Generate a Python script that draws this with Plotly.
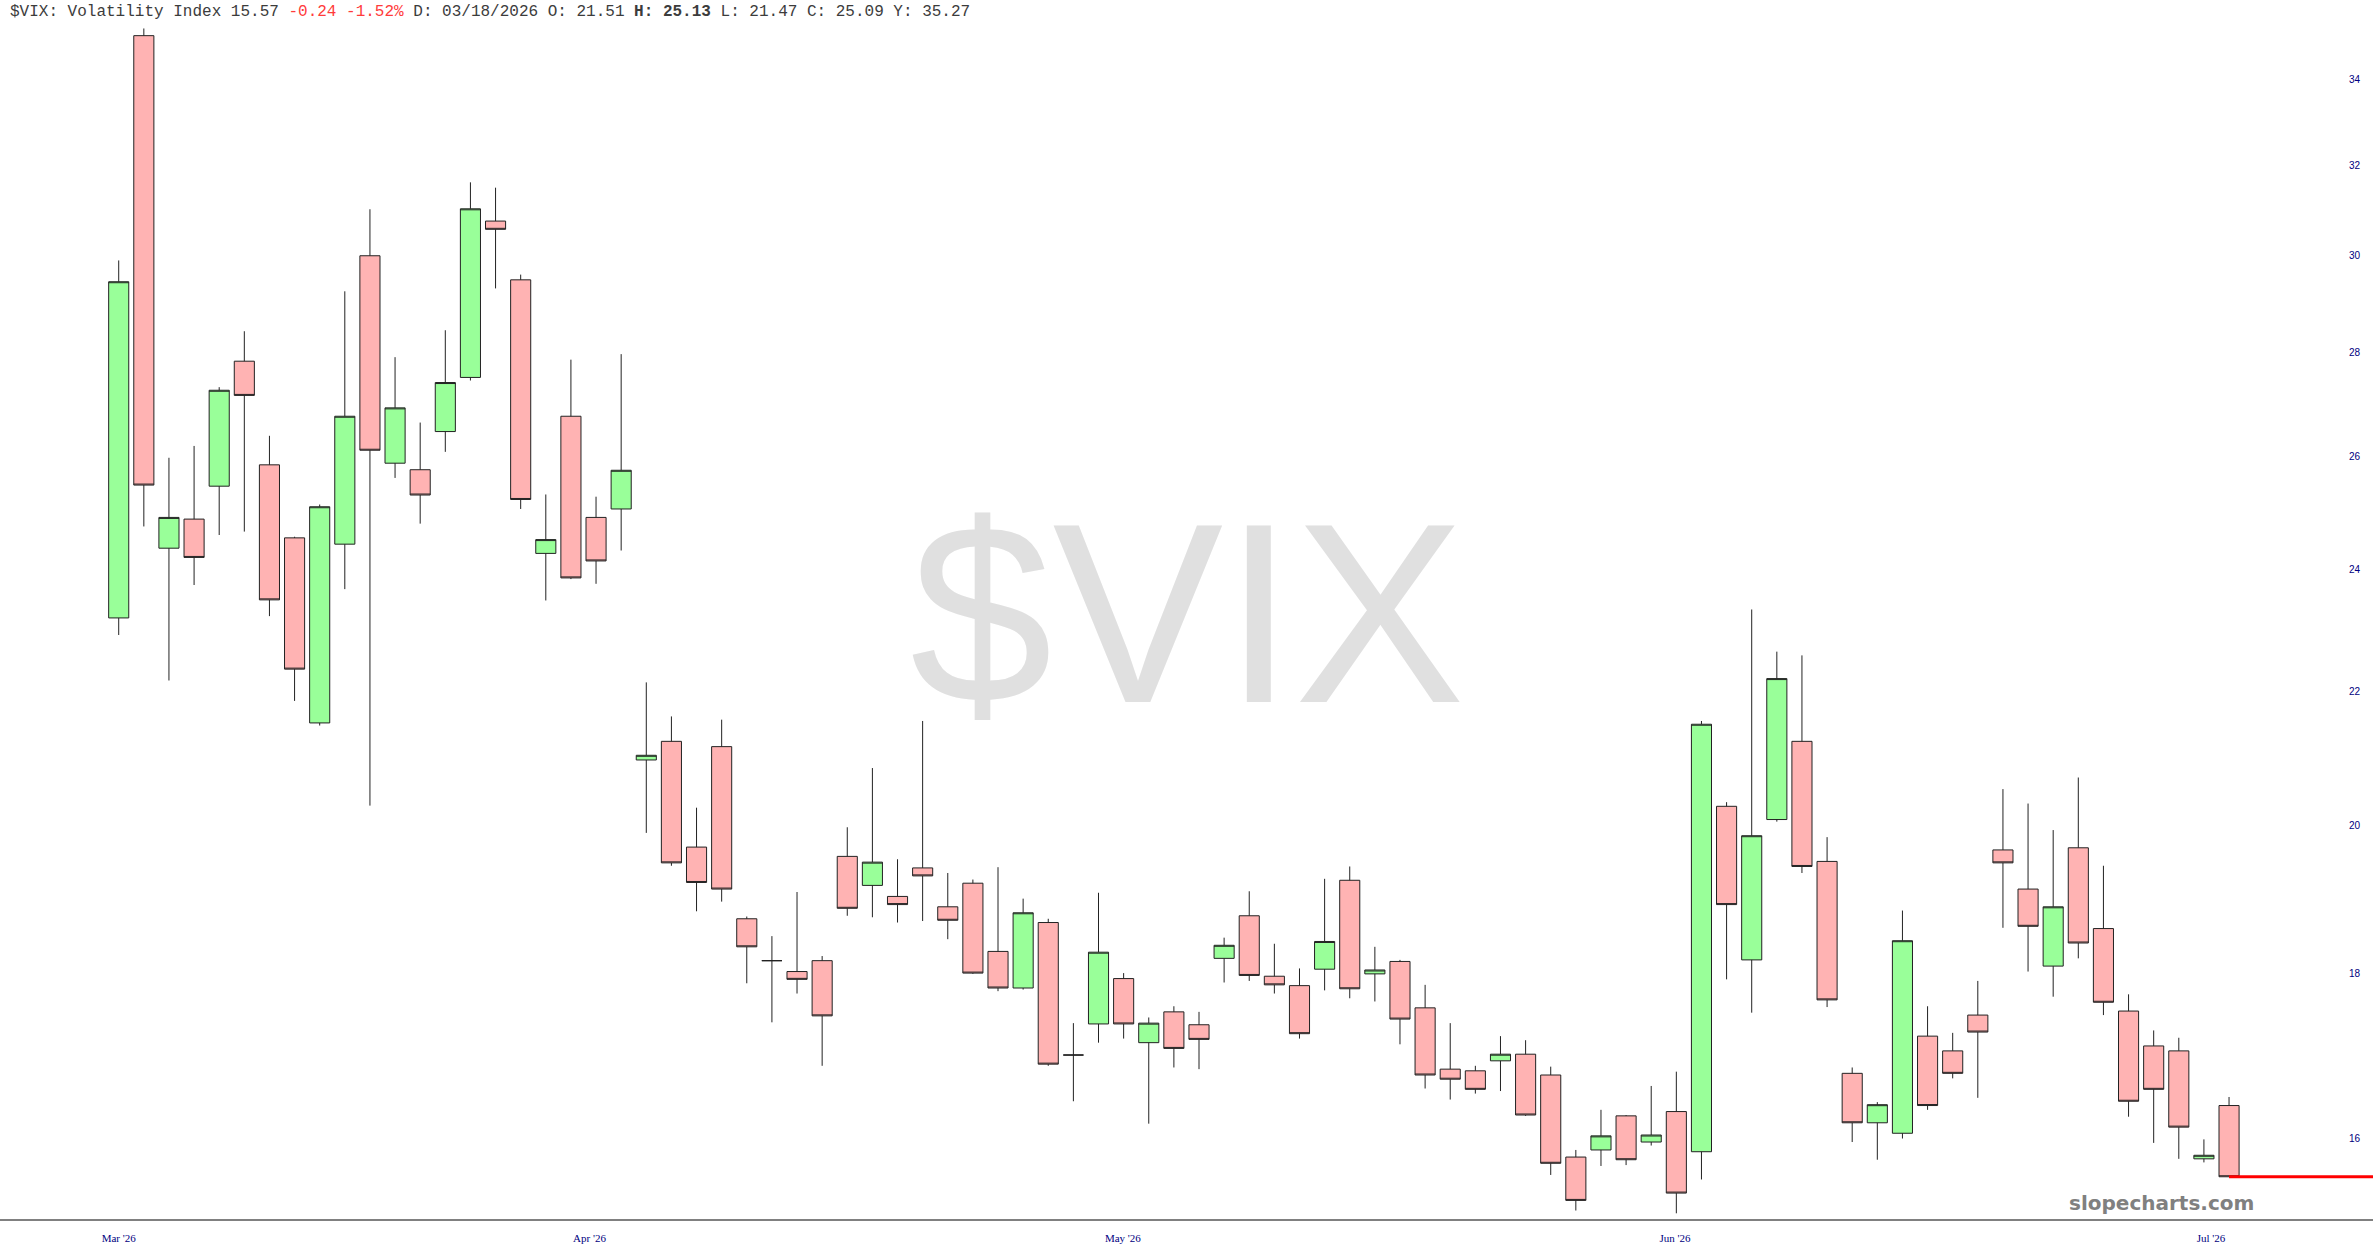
import plotly.graph_objects as go

# ---- data (trading-day index order) ----
opens = [23.18, 35.09, 24.36, 24.87, 25.46, 27.83, 25.85, 24.54, 21.51, 24.43,
         30.00, 25.88, 25.76, 26.47, 27.51, 30.75, 29.49, 24.27, 26.76, 24.90,
         25.05, 20.95, 21.23, 19.69, 21.15, 18.71, 18.16, 18.02, 18.16, 19.56,
         19.16, 19.01, 19.40, 18.87, 19.19, 18.28, 17.81, 18.66, 16.98, 17.36,
         17.93, 17.13, 17.51, 17.35, 18.19, 18.75, 17.96, 17.84, 18.05, 19.23,
         17.99, 18.15, 17.56, 16.81, 16.79, 16.91, 16.99, 16.74, 15.79, 15.87,
         16.26, 15.96, 16.31, 15.85, 20.27, 18.17, 20.08, 21.23, 19.49, 16.76,
         16.18, 16.06, 17.21, 17.03, 17.47, 19.65, 19.11, 18.09, 19.68, 18.58,
         17.52, 17.09, 17.03, 15.77, 16.38]
highs = [29.90, 35.27, 25.98, 26.20, 27.32, 28.43, 26.39, 24.56, 25.13, 29.25,
         31.01, 27.91, 26.64, 28.45, 31.61, 31.49, 29.60, 25.31, 27.86, 25.27,
         27.97, 22.14, 21.61, 20.25, 21.56, 18.74, 18.48, 19.07, 18.22, 19.97,
         20.83, 19.52, 21.54, 19.33, 19.24, 19.41, 18.98, 18.71, 17.37, 19.06,
         18.00, 17.44, 17.58, 17.51, 18.46, 19.08, 18.38, 18.06, 19.25, 19.42,
         18.34, 18.17, 17.85, 17.37, 16.85, 17.21, 17.16, 16.84, 15.87, 16.33,
         16.27, 16.61, 16.78, 21.54, 20.33, 23.32, 22.63, 22.57, 19.83, 16.83,
         16.42, 18.82, 17.58, 17.25, 17.90, 20.52, 20.31, 19.93, 20.69, 19.43,
         17.73, 17.28, 17.19, 15.99, 16.48]
lows = [22.90, 24.74, 22.17, 23.73, 24.59, 24.65, 23.21, 21.85, 21.47, 23.66,
        20.28, 25.61, 24.79, 26.09, 27.45, 29.31, 25.05, 23.47, 23.83, 23.75,
        24.32, 19.89, 19.43, 18.81, 18.94, 17.87, 17.38, 17.74, 16.85, 18.75,
        18.73, 18.66, 18.68, 18.44, 17.99, 17.77, 17.79, 16.85, 16.43, 17.13,
        17.18, 16.17, 16.83, 16.81, 17.88, 17.90, 17.74, 17.18, 17.78, 17.68,
        17.64, 17.11, 16.58, 16.45, 16.52, 16.55, 16.26, 15.59, 15.20, 15.69,
        15.70, 15.92, 15.17, 15.54, 17.92, 17.50, 20.05, 19.33, 17.57, 15.96,
        15.76, 16.00, 16.33, 16.70, 16.47, 18.59, 18.02, 17.70, 18.19, 17.47,
        16.25, 15.95, 15.77, 15.73, 15.57]
closes = [29.45, 25.48, 24.90, 24.20, 27.26, 27.16, 23.48, 22.35, 25.09, 26.76,
          26.12, 26.92, 25.30, 27.41, 31.02, 30.57, 25.22, 24.51, 23.85, 24.14,
          25.75, 21.02, 19.47, 19.20, 19.11, 18.34, 18.16, 17.92, 17.46, 18.85,
          19.48, 18.90, 19.29, 18.69, 18.00, 17.81, 18.79, 16.87, 16.98, 18.27,
          17.36, 17.37, 17.06, 17.17, 18.36, 17.97, 17.85, 17.24, 18.41, 17.80,
          18.04, 17.42, 16.74, 16.69, 16.57, 16.99, 16.27, 15.72, 15.31, 16.03,
          15.76, 16.04, 15.39, 21.49, 18.90, 19.85, 22.20, 19.42, 17.66, 16.18,
          16.39, 18.42, 16.38, 16.76, 17.26, 19.47, 18.61, 18.87, 18.39, 17.63,
          16.43, 16.57, 16.13, 15.81, 15.57]

month_labels = ["Mar '26", "Apr '26", "May '26", "Jun '26", "Jul '26"]
month_pos = [0.0, 18.74, 39.97, 61.95, 83.28]
price_ticks = [16, 18, 20, 22, 24, 26, 28, 30, 32, 34]

symbol = "$VIX"
name = "Volatility Index"
focus_idx = 8
focus_date = "03/18/2026"
year_high = 35.27

x = list(range(len(closes)))
last_close = closes[-1]
chg = last_close - closes[-2]
pct = chg / closes[-2] * 100
X_MIN, X_MAX = -4.725, 89.73

fig = go.Figure()
fig.add_trace(go.Candlestick(
    x=x, open=opens, high=highs, low=lows, close=closes,
    increasing=dict(fillcolor="#99ff99", line=dict(color="#222222", width=1)),
    decreasing=dict(fillcolor="#ffb3b3", line=dict(color="#222222", width=1)),
    whiskerwidth=0, hoverinfo="skip", showlegend=False,
))

# last-price line, drawn above the candles
fig.add_shape(type="line", xref="x", yref="y",
              x0=x[-1], x1=X_MAX, y0=last_close, y1=last_close,
              line=dict(color="#ff0000", width=3), layer="above")

gray = "#3c3c3c"
title = (f"<span style='color:{gray}'>{symbol}: {name} {last_close:.2f} </span>"
         f"<span style='color:#ff3b3b'>{chg:+.2f} {pct:+.2f}%</span>"
         f"<span style='color:{gray}'> D: {focus_date} O: {opens[focus_idx]:.2f} </span>"
         f"<b>H: {highs[focus_idx]:.2f}</b>"
         f"<span style='color:{gray}'> L: {lows[focus_idx]:.2f} C: {closes[focus_idx]:.2f} Y: {year_high:.2f}</span>")

fig.update_layout(
    width=2373, height=1260,
    margin=dict(l=0, r=0, t=0, b=41),
    paper_bgcolor="white", plot_bgcolor="white",
    boxgap=0.2, boxgroupgap=0,
    showlegend=False,
    xaxis=dict(
        range=[X_MIN, X_MAX], showgrid=False, zeroline=False,
        showline=True, linecolor="#808080", linewidth=2,
        ticks="", tickvals=month_pos, ticktext=month_labels,
        tickfont=dict(family="Liberation Serif", size=11, color="#000080"),
        ticklabelstandoff=8,
        rangeslider=dict(visible=False), fixedrange=True,
    ),
    yaxis=dict(
        type="log", range=[1.179225, 1.556214], side="right",
        showgrid=False, zeroline=False, showline=False,
        ticks="", ticklabelposition="inside",
        tickvals=price_ticks, ticktext=[str(t) for t in price_ticks],
        tickfont=dict(family="Liberation Sans", size=10, color="#000080"),
        ticklabelstandoff=10, fixedrange=True,
    ),
    annotations=[
        dict(text=symbol, xref="paper", yref="paper", x=0.5006, y=0.497,
             xanchor="center", yanchor="middle", showarrow=False,
             font=dict(family="Liberation Sans", size=256, color="#e0e0e0")),
        dict(text="slopecharts.com", xref="paper", yref="paper", x=0.911, y=0.013,
             xanchor="center", yanchor="middle", showarrow=False,
             font=dict(family="DejaVu Sans", size=20, color="#808080", weight="bold")),
        dict(text=title, xref="paper", yref="paper", x=0, y=1, xshift=8, yshift=-12,
             xanchor="left", yanchor="middle", showarrow=False,
             font=dict(family="Liberation Mono", size=16, color=gray)),
    ],
)

fig.write_html("out.html",
               config={"displayModeBar": False},
               post_script="document.body.style.margin='0';document.body.style.overflow='hidden';")
